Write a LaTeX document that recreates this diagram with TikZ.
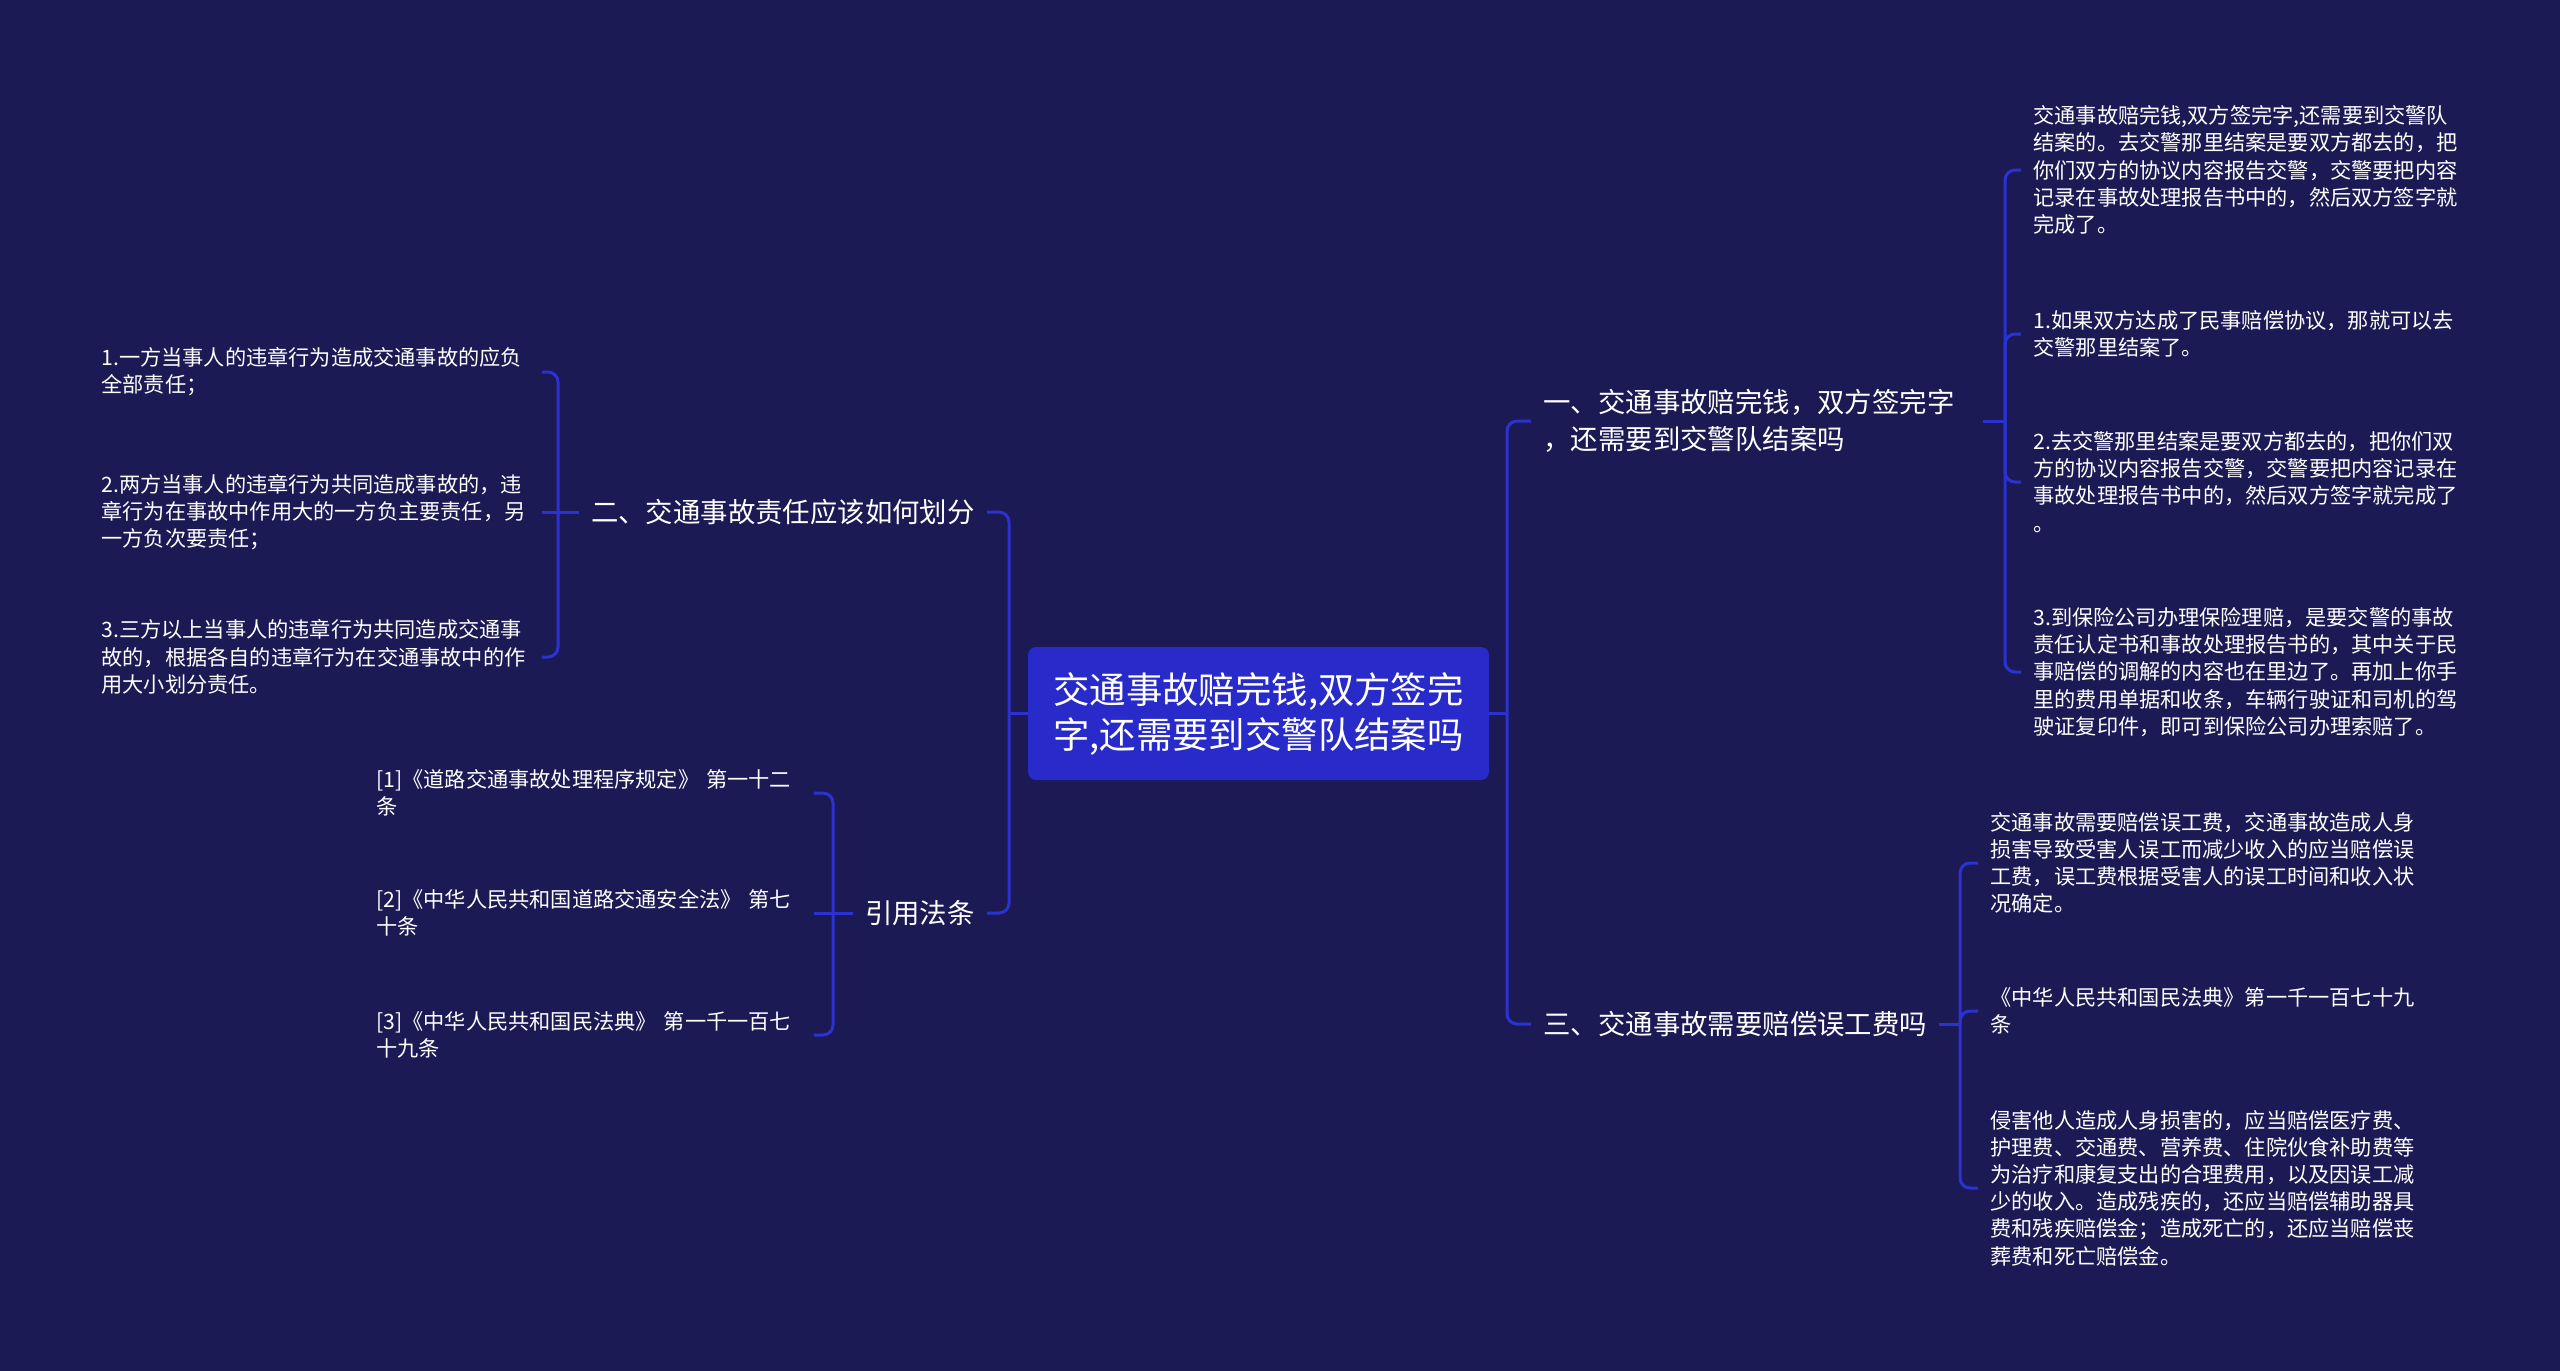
\documentclass[tikz,border=0pt]{standalone}
\usepackage{fontspec}
\setmainfont{Noto Sans CJK SC}
\definecolor{bgc}{RGB}{27,26,84}
\definecolor{rootfill}{RGB}{40,42,202}
\definecolor{linec}{RGB}{44,50,210}
\newcommand{\leaffont}{\fontsize{10.6pt}{13.6pt}\selectfont}
\newcommand{\midfont}{\fontsize{13.7pt}{18.5pt}\selectfont}
\newcommand{\rootfont}{\fontsize{18.2pt}{22.5pt}\selectfont}
\begin{document}
\begin{tikzpicture}[x=0.5pt,y=-0.5pt,
  rootbox/.style={fill=rootfill, rounded corners=4pt, text=white, font=\rootfont,
    align=center, minimum width=230.5pt, minimum height=66.5pt, inner sep=0pt},
  midnode/.style={text=white, font=\midfont, inner xsep=6pt, inner ysep=0pt, align=left},
  leafnode/.style={text=white, font=\leaffont, inner xsep=6pt, inner ysep=0pt,
    align=left, anchor=west},
  edge/.style={draw=linec, line width=1.5pt, rounded corners=5pt}]
\useasboundingbox (0,0) rectangle (2560,1371);
\fill[bgc] (0,0) rectangle (2560,1371);

% root
\node[rootbox] (c) at (1258.5,713.5) {交通事故赔完钱,双方签完\\字,还需要到交警队结案吗};

% level 2
\node[midnode, anchor=west, text width=213.5pt] (n1) at (1531,421) {一、交通事故赔完钱，双方签完字\\，还需要到交警队结案吗};
\node[midnode, anchor=west] (n3) at (1531,1024) {三、交通事故需要赔偿误工费吗};
\node[midnode, anchor=east] (n2) at (987,512) {二、交通事故责任应该如何划分};
\node[midnode, anchor=east] (n4) at (987,913) {引用法条};

% leaves of n1
\node[leafnode, text width=215pt] (a1) at (2021,170) {交通事故赔完钱,双方签完字,还需要到交警队\\结案的。去交警那里结案是要双方都去的，把\\你们双方的协议内容报告交警，交警要把内容\\记录在事故处理报告书中的，然后双方签字就\\完成了。};
\node[leafnode, text width=215pt] (a2) at (2021,334) {1.如果双方达成了民事赔偿协议，那就可以去\\交警那里结案了。};
\node[leafnode, text width=215pt] (a3) at (2021,482) {2.去交警那里结案是要双方都去的，把你们双\\方的协议内容报告交警，交警要把内容记录在\\事故处理报告书中的，然后双方签字就完成了\\。};
\node[leafnode, text width=215pt] (a4) at (2021,672) {3.到保险公司办理保险理赔，是要交警的事故\\责任认定书和事故处理报告书的，其中关于民\\事赔偿的调解的内容也在里边了。再加上你手\\里的费用单据和收条，车辆行驶证和司机的驾\\驶证复印件，即可到保险公司办理索赔了。};

% leaves of n3
\node[leafnode, text width=215pt] (b1) at (1978,863) {交通事故需要赔偿误工费，交通事故造成人身\\损害导致受害人误工而减少收入的应当赔偿误\\工费，误工费根据受害人的误工时间和收入状\\况确定。};
\node[leafnode, text width=215pt] (b2) at (1978,1011) {《中华人民共和国民法典》第一千一百七十九\\条};
\node[leafnode, text width=215pt] (b3) at (1978,1188) {侵害他人造成人身损害的，应当赔偿医疗费、\\护理费、交通费、营养费、住院伙食补助费等\\为治疗和康复支出的合理费用，以及因误工减\\少的收入。造成残疾的，还应当赔偿辅助器具\\费和残疾赔偿金；造成死亡的，还应当赔偿丧\\葬费和死亡赔偿金。};

% leaves of n2
\node[leafnode, text width=214pt] (c1) at (89,372) {1.一方当事人的违章行为造成交通事故的应负\\全部责任；};
\node[leafnode, text width=214pt] (c2) at (89,512) {2.两方当事人的违章行为共同造成事故的，违\\章行为在事故中作用大的一方负主要责任，另\\一方负次要责任；};
\node[leafnode, text width=214pt] (c3) at (89,657) {3.三方以上当事人的违章行为共同造成交通事\\故的，根据各自的违章行为在交通事故中的作\\用大小划分责任。};

% leaves of n4
\node[leafnode, text width=212.5pt] (d1) at (364,793) {[1]《道路交通事故处理程序规定》 第一十二\\条};
\node[leafnode, text width=212.5pt] (d2) at (364,913) {[2]《中华人民共和国道路交通安全法》 第七\\十条};
\node[leafnode, text width=212.5pt] (d3) at (364,1035) {[3]《中华人民共和国民法典》 第一千一百七\\十九条};

% junctions
\coordinate (jR) at (1507,713.5);
\coordinate (jL) at (1009,713.5);
\coordinate (k1) at (2005,421);
\coordinate (k3) at (1960,1024);
\coordinate (k2) at (558,512);
\coordinate (k4) at (833,913);

% root connectors
\draw[edge] (c.east) -- (jR);
\draw[edge] (c.west) -- (jL);
\draw[edge] (jR) |- (n1.west);
\draw[edge] (jR) |- (n3.west);
\draw[edge] (jL) |- (n2.east);
\draw[edge] (jL) |- (n4.east);

% n1 branch
\draw[edge] (n1.east) -- (k1);
\draw[edge] (k1) |- (a1.west);
\draw[edge] (k1) |- (a2.west);
\draw[edge] (k1) |- (a3.west);
\draw[edge] (k1) |- (a4.west);

% n3 branch
\draw[edge] (n3.east) -- (k3);
\draw[edge] (k3) |- (b1.west);
\draw[edge] (k3) |- (b2.west);
\draw[edge] (k3) |- (b3.west);

% n2 branch
\draw[edge] (n2.west) -- (k2);
\draw[edge] (k2) |- (c1.east);
\draw[edge] (k2) -- (c2.east);
\draw[edge] (k2) |- (c3.east);

% n4 branch
\draw[edge] (n4.west) -- (k4);
\draw[edge] (k4) |- (d1.east);
\draw[edge] (k4) -- (d2.east);
\draw[edge] (k4) |- (d3.east);
\end{tikzpicture}
\end{document}
